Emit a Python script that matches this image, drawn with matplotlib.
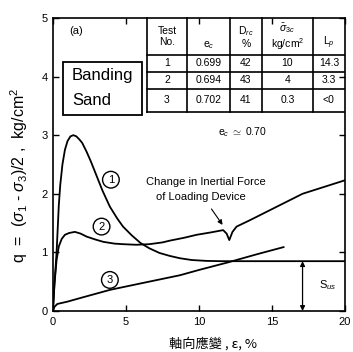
import matplotlib
matplotlib.use("Agg")
import matplotlib.pyplot as plt
from matplotlib.patches import Rectangle

plt.rcParams['font.family'] = ['Liberation Sans', 'DejaVu Sans']
plt.rcParams['mathtext.fontset'] = 'custom'
plt.rcParams['mathtext.rm'] = 'Liberation Sans'
plt.rcParams['mathtext.it'] = 'Liberation Sans:italic'

# curve 1 (test 1), strain % vs q
eps1 = [0, 0.1, 0.25, 0.4, 0.5, 0.65, 0.82, 1.0, 1.2, 1.4, 1.6, 1.8, 2.0, 2.3, 2.6, 3.0,
        3.4, 3.9, 4.4, 4.8, 5.4, 6.0, 6.6, 7.3, 8.0, 8.7, 9.5, 10.5, 11.5, 12.0, 20.0]
q1 = [0, 0.45, 1.0, 1.8, 2.15, 2.5, 2.75, 2.9, 2.98, 3.0, 2.98, 2.93, 2.87, 2.72, 2.55, 2.3,
      2.05, 1.78, 1.58, 1.44, 1.29, 1.16, 1.07, 0.99, 0.94, 0.90, 0.87, 0.855, 0.85, 0.85, 0.85]

# curve 2 (test 2)
eps2 = [0, 0.1, 0.25, 0.4, 0.6, 0.82, 1.1, 1.5, 1.9, 2.3, 2.9, 3.45, 4.2, 4.8, 5.7, 6.6,
        7.5, 8.0, 9.0, 9.84, 10.8, 11.66, 11.9, 12.08, 12.3, 12.58, 13.5, 14.86, 17.1, 20.0]
q2 = [0, 0.45, 0.87, 1.1, 1.23, 1.30, 1.33, 1.35, 1.32, 1.27, 1.22, 1.18, 1.15, 1.14, 1.13, 1.14,
      1.17, 1.20, 1.25, 1.30, 1.34, 1.38, 1.32, 1.21, 1.35, 1.44, 1.55, 1.72, 2.0, 2.23]

# curve 3 (test 3)
eps3 = [0, 0.1, 0.3, 1.0, 2.0, 3.9, 6.0, 8.7, 10.0, 12.0, 14.0, 15.8]
q3 = [0, 0.07, 0.12, 0.16, 0.23, 0.36, 0.47, 0.61, 0.70, 0.83, 0.97, 1.09]

sus = 0.85

# table contents
col_heads = ["Test\nNo.", "e$_c$", "D$_{rc}$\n%", "$\\bar{\\sigma}_{3c}$\nkg/cm$^2$", "L$_p$"]
test_no = ["1", "2", "3"]
e_c = ["0.699", "0.694", "0.702"]
d_rc = ["42", "43", "41"]
sig3c = ["10", "4", "0.3"]
l_p = ["14.3", "3.3", "<0"]

fig = plt.figure(figsize=(3.53, 3.52), dpi=100)
ax = fig.add_axes([0.150, 0.1165, 0.827, 0.8325])

lw = 1.3
ax.plot(eps1, q1, color='k', lw=lw)
ax.plot(eps2, q2, color='k', lw=lw)
ax.plot(eps3, q3, color='k', lw=lw)

ax.set_xlim(0, 20)
ax.set_ylim(0, 5)
ax.set_xticks([0, 5, 10, 15, 20])
ax.set_yticks([0, 1, 2, 3, 4, 5])
ax.tick_params(direction='in', length=4, width=1, labelsize=8, right=True, top=True, pad=4)
for s in ax.spines.values():
    s.set_linewidth(1.2)

ax.set_ylabel("q  =  ($\\sigma_1$ - $\\sigma_3$)/2 ,  kg/cm$^2$", fontsize=11.5)
ax.yaxis.set_label_coords(-0.08, 0.464)
fig.text(0.603, 0.022, "軸向應變 , ε, %", fontsize=9.5, ha='center', va='center',
         family=['Noto Sans CJK TC', 'DejaVu Sans'])

# circled curve numbers
for x, y, t in [(3.97, 2.24, "1"), (3.33, 1.44, "2"), (3.9, 0.53, "3")]:
    ax.text(x, y, t, fontsize=8, ha='center', va='center',
            bbox=dict(boxstyle='circle,pad=0.3', fc='white', ec='k', lw=1))

ax.text(13.0, 3.05, "e$_c$ $\\simeq$ 0.70", fontsize=7.5, ha='center', va='center')
ax.text(10.5, 2.2, "Change in Inertial Force", fontsize=8, ha='center', va='center')
ax.text(10.1, 1.95, "of Loading Device", fontsize=8, ha='center', va='center')
ax.annotate("", xy=(11.73, 1.43), xytext=(10.75, 1.78),
            arrowprops=dict(arrowstyle='-|>', color='k', lw=0.8, mutation_scale=7))

# S_us double arrow
ax.annotate("", xy=(17.1, 0), xytext=(17.1, sus),
            arrowprops=dict(arrowstyle='<|-|>', color='k', lw=0.9, mutation_scale=7,
                            shrinkA=0, shrinkB=0))
ax.text(18.2, 0.45, "S$_{us}$", fontsize=8, ha='left', va='center')

ax.text(1.15, 4.77, "(a)", fontsize=8, ha='left', va='center')

# Banding Sand box
ax.add_patch(Rectangle((0.68, 3.35), 5.42, 0.9, fill=False, ec='k', lw=1.3))
ax.text(1.3, 4.02, "Banding", fontsize=12, ha='left', va='center')
ax.text(1.3, 3.6, "Sand", fontsize=12, ha='left', va='center')

# table drawn in data coordinates
cols = [6.44, 9.18, 12.12, 14.32, 17.81, 20.0]
rows = [5.0, 4.37, 4.08, 3.79, 3.40]
for c in cols[:-1]:
    ax.plot([c, c], [rows[-1], rows[0]], color='k', lw=1.2, clip_on=False)
for r in rows[1:]:
    ax.plot([cols[0], cols[-1]], [r, r], color='k', lw=1.2)
cx = [(cols[i] + cols[i + 1]) / 2 for i in range(5)]
for i, h in enumerate(col_heads):
    if "\n" in h:
        ax.text(cx[i], 4.68, h, fontsize=7.5, ha='center', va='center', linespacing=1.1)
    else:
        ax.text(cx[i], 4.43, h, fontsize=7.5, ha='center', va='bottom')
for j in range(3):
    rc = (rows[j + 1] + rows[j + 2]) / 2
    for i, vals in enumerate([test_no, e_c, d_rc, sig3c, l_p]):
        ax.text(cx[i], rc, vals[j], fontsize=7.5, ha='center', va='center')

fig.savefig("out.png", dpi=100)
